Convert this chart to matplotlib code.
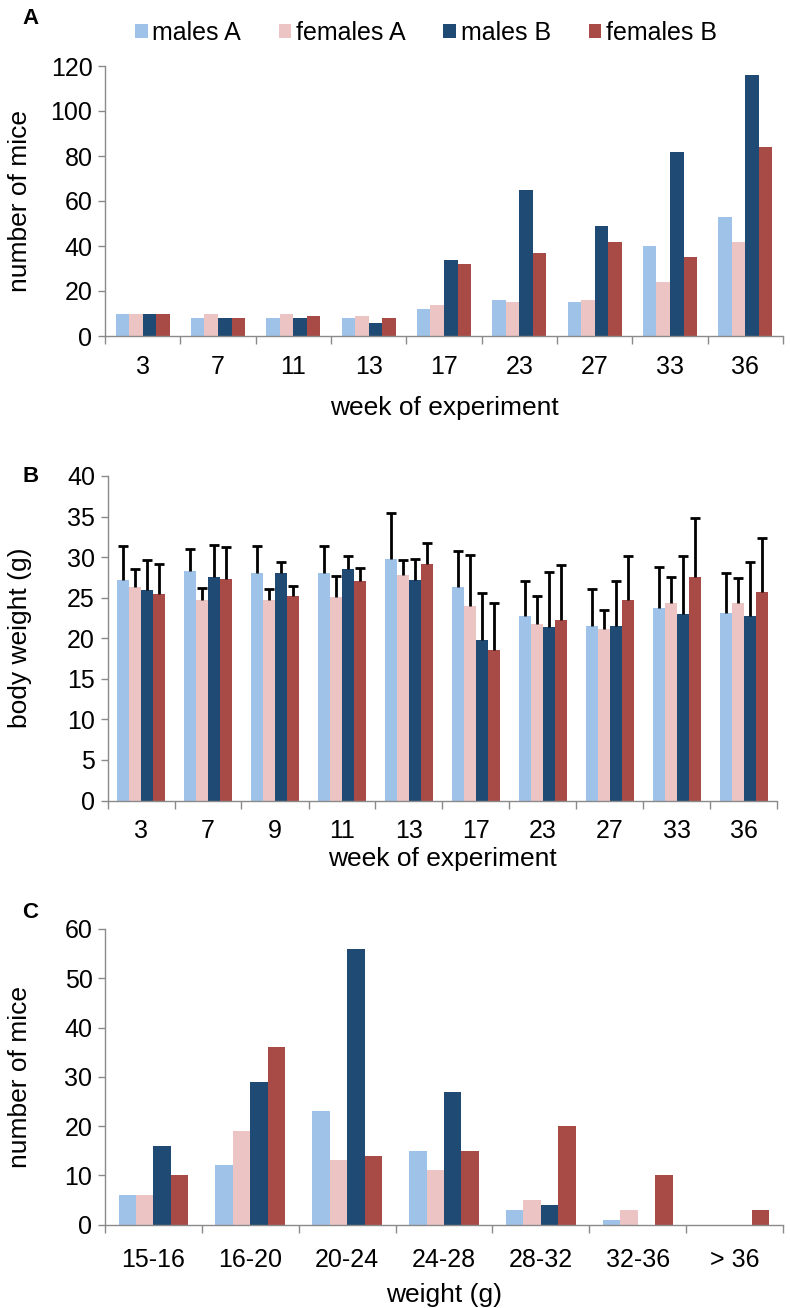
import matplotlib
matplotlib.use("Agg")
import matplotlib.pyplot as plt
import numpy as np

plt.rcParams['font.family'] = ['Liberation Sans', 'DejaVu Sans']

series = ["males A", "females A", "males B", "females B"]
colors = ["#9fc3e8", "#ecc4c4", "#1f4a73", "#a84b46"]

# panel A: number of mice per week
weeks_a = ["3", "7", "11", "13", "17", "23", "27", "33", "36"]
count_males_a = [10, 8, 8, 8, 12, 16, 15, 40, 53]
count_females_a = [10, 10, 10, 9, 14, 15, 16, 24, 42]
count_males_b = [10, 8, 8, 6, 34, 65, 49, 82, 116]
count_females_b = [10, 8, 9, 8, 32, 37, 42, 35, 84]

# panel B: body weight mean and upper error (mean + sd)
weeks_b = ["3", "7", "9", "11", "13", "17", "23", "27", "33", "36"]
bw_males_a = [27.2, 28.3, 28.1, 28.1, 29.8, 26.3, 22.8, 21.5, 23.7, 23.1]
bw_females_a = [26.3, 24.7, 24.7, 25.1, 27.8, 24.0, 21.8, 21.2, 24.4, 24.3]
bw_males_b = [26.0, 27.5, 28.0, 28.5, 27.2, 19.8, 21.4, 21.5, 23.0, 22.7]
bw_females_b = [25.5, 27.3, 25.2, 27.0, 29.1, 18.5, 22.2, 24.7, 27.6, 25.7]
top_males_a = [31.4, 31.0, 31.4, 31.4, 35.5, 30.7, 27.1, 26.1, 28.8, 28.1]
top_females_a = [28.5, 26.2, 26.1, 27.7, 29.7, 30.3, 25.2, 23.5, 27.5, 27.4]
top_males_b = [29.7, 31.5, 29.4, 30.2, 29.8, 25.6, 28.2, 27.1, 30.1, 29.4]
top_females_b = [29.2, 31.3, 26.5, 28.7, 31.7, 24.3, 29.0, 30.2, 34.8, 32.3]

# panel C: weight distribution
weight_bins = ["15-16", "16-20", "20-24", "24-28", "28-32", "32-36", "> 36"]
dist_males_a = [6, 12, 23, 15, 3, 1, 0]
dist_females_a = [6, 19, 13, 11, 5, 3, 0]
dist_males_b = [16, 29, 56, 27, 4, 0, 0]
dist_females_b = [10, 36, 14, 15, 20, 10, 3]

W, H = 790, 1308
fig = plt.figure(figsize=(W / 100, H / 100), dpi=100)
axis_grey = "#8a8a8a"


def add_ax(x0, x1, y_top, y_bot):
    return fig.add_axes([x0 / W, 1 - y_bot / H, (x1 - x0) / W, (y_bot - y_top) / H])


def grouped(ax, cats, groups, ymax, ystep, tick_fs, bw=0.18):
    n = len(cats)
    x = np.arange(n)
    bars = []
    for k, (vals, col) in enumerate(zip(groups, colors)):
        off = (k - 1.5) * bw
        bars.append(ax.bar(x + off, vals, bw, color=col, linewidth=0, label=series[k]))
    ax.set_xlim(-0.5, n - 0.5)
    ax.set_ylim(0, ymax)
    ax.set_yticks(np.arange(0, ymax + 0.1, ystep))
    ax.set_xticks(x)
    ax.set_xticklabels(cats)
    ax.set_xticks(np.arange(n + 1) - 0.5, minor=True)
    ax.tick_params(axis="x", which="major", length=0, labelsize=tick_fs, pad=14)
    ax.tick_params(axis="x", which="minor", length=6, color=axis_grey, width=1)
    ax.tick_params(axis="y", length=5, color=axis_grey, width=1, labelsize=tick_fs, pad=4)
    for s in ["top", "right"]:
        ax.spines[s].set_visible(False)
    for s in ["left", "bottom"]:
        ax.spines[s].set_color(axis_grey)
        ax.spines[s].set_linewidth(1)
    return x, bars


def place_ylabel(ax, text, x_left_px, ax_width_px):
    ax.set_ylabel(text, fontsize=19)
    ax.yaxis.set_label_coords((32 - x_left_px) / ax_width_px, 0.5)


# ---- A
axA = add_ax(105, 783, 66, 336)
_, barsA = grouped(axA, weeks_a, [count_males_a, count_females_a, count_males_b, count_females_b],
                   120, 20, 18)
axA.set_xlabel("week of experiment", fontsize=19, labelpad=12)
place_ylabel(axA, "number of mice", 105, 678)

# ---- B
axB = add_ax(107.5, 777.5, 476, 800.5)
means = [bw_males_a, bw_females_a, bw_males_b, bw_females_b]
tops = [top_males_a, top_females_a, top_males_b, top_females_b]
xB, _ = grouped(axB, weeks_b, means, 40, 5, 18)
for k in range(4):
    xs = xB + (k - 1.5) * 0.18
    axB.vlines(xs, means[k], tops[k], color="black", linewidth=2, zorder=3)
    axB.hlines(tops[k], xs - 0.07, xs + 0.07, color="black", linewidth=2, zorder=3)
axB.tick_params(axis="x", which="major", pad=13)
axB.set_xlabel("week of experiment", fontsize=19, labelpad=3)
place_ylabel(axB, "body weight (g)", 107.5, 670)

# ---- C
axC = add_ax(105, 783, 929, 1224.5)
grouped(axC, weight_bins, [dist_males_a, dist_females_a, dist_males_b, dist_females_b],
        60, 10, 18)
axC.tick_params(axis="x", which="major", pad=17)
axC.set_xlabel("weight (g)", fontsize=19, labelpad=8)
place_ylabel(axC, "number of mice", 105, 678)

fig.legend(handles=barsA, labels=series, loc="center", bbox_to_anchor=(426 / W, 1 - 33 / H),
           ncol=4, frameon=False, fontsize=18, handlelength=0.5, handleheight=0.5,
           handletextpad=0.2, columnspacing=1.5)

for letter, ypx in [("A", 18), ("B", 476), ("C", 913)]:
    fig.text(22 / W, 1 - ypx / H, letter, fontsize=16, fontweight="bold", va="center")

fig.savefig("out.png", dpi=100)
plt.close(fig)
